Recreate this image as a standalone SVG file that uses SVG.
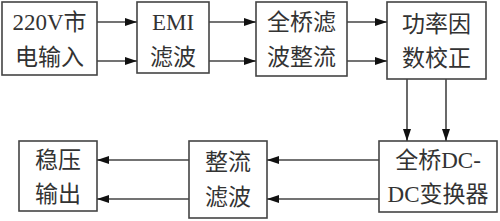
<svg xmlns="http://www.w3.org/2000/svg" width="500" height="221" viewBox="0 0 500 221">
<defs>
<marker id="ah" viewBox="0 0 12 8" refX="12" refY="4" markerWidth="12" markerHeight="8" markerUnits="userSpaceOnUse" orient="auto">
<path d="M0,0 L12,4 L0,8 Z" fill="#111"/>
</marker>
<style>
.box{fill:#fff;stroke:#444;stroke-width:1.6}
.t{font-family:"Liberation Serif","Noto Sans CJK SC",serif;font-size:23px;fill:#333;text-anchor:middle}
.c{stroke:#444;stroke-width:1.6;fill:none;marker-end:url(#ah)}
</style>
</defs>
<rect width="500" height="221" fill="#fff"/>
<g id="n1"><rect class="box" x="2" y="2" width="95" height="73"/><text class="t" x="49.5" y="30">220V市</text><text class="t" x="49.5" y="65">电输入</text></g>
<g id="n2"><rect class="box" x="137" y="2" width="72" height="71"/><text class="t" x="173" y="30">EMI</text><text class="t" x="173" y="65">滤波</text></g>
<g id="n3"><rect class="box" x="256" y="2" width="91" height="74"/><text class="t" x="301.5" y="30">全桥滤</text><text class="t" x="301.5" y="65">波整流</text></g>
<g id="n4"><rect class="box" x="387" y="2" width="99" height="77"/><text class="t" x="436.5" y="32">功率因</text><text class="t" x="436.5" y="66">数校正</text></g>
<g id="n5"><rect class="box" x="379" y="141" width="118" height="71"/><text class="t" x="438" y="168">全桥DC-</text><text class="t" x="438" y="202">DC变换器</text></g>
<g id="n6"><rect class="box" x="189" y="141" width="78" height="77"/><text class="t" x="228" y="170">整流</text><text class="t" x="228" y="205">滤波</text></g>
<g id="n7"><rect class="box" x="19" y="141" width="78" height="70"/><text class="t" x="58" y="168">稳压</text><text class="t" x="58" y="202">输出</text></g>
<g id="connectors">
<line class="c" x1="97" y1="22" x2="137" y2="22"/>
<line class="c" x1="97" y1="61" x2="137" y2="61"/>
<line class="c" x1="209" y1="22" x2="256" y2="22"/>
<line class="c" x1="209" y1="61" x2="256" y2="61"/>
<line class="c" x1="347" y1="22" x2="387" y2="22"/>
<line class="c" x1="347" y1="61" x2="387" y2="61"/>
<line class="c" x1="407" y1="79" x2="407" y2="141"/>
<line class="c" x1="446" y1="79" x2="446" y2="141"/>
<line class="c" x1="379" y1="160" x2="267" y2="160"/>
<line class="c" x1="379" y1="199" x2="267" y2="199"/>
<line class="c" x1="189" y1="160" x2="97" y2="160"/>
<line class="c" x1="189" y1="199" x2="97" y2="199"/>
</g>
</svg>
